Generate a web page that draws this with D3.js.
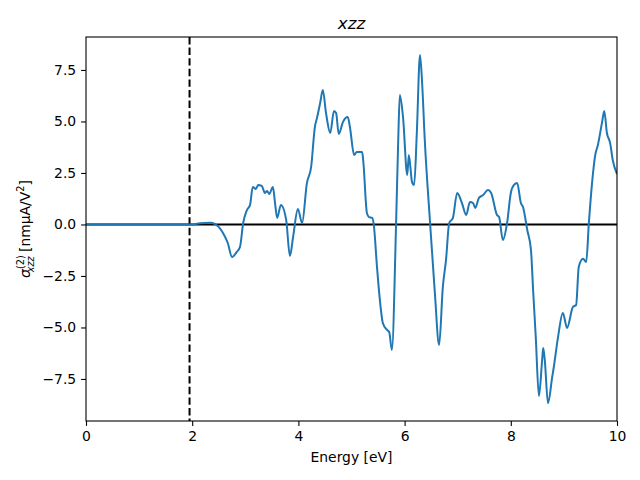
<!DOCTYPE html>
<html><head><meta charset="utf-8">
<script src="https://cdn.jsdelivr.net/npm/d3@7"></script>
<style>body{margin:0;background:#fff}svg{display:block}text{font-family:"DejaVu Sans",sans-serif}</style>
</head><body><svg id="c" width="640" height="480"></svg>
<script>
const energy = [0,2.01,2.15,2.34,2.43,2.58,2.67,2.75,2.84,2.90,2.96,3.03,3.09,3.14,3.20,3.24,3.31,3.37,3.41,3.45,3.52,3.56,3.60,3.67,3.77,3.84,3.90,3.99,4.07,4.16,4.24,4.31,4.35,4.41,4.46,4.52,4.60,4.67,4.71,4.76,4.84,4.93,4.97,5.05,5.10,5.20,5.22,5.29,5.33,5.39,5.42,5.48,5.54,5.59,5.67,5.71,5.76,5.84,5.88,5.91,5.97,6.05,6.08,6.14,6.18,6.23,6.29,6.33,6.38,6.48,6.57,6.65,6.72,6.78,6.84,6.91,6.99,7.08,7.16,7.23,7.29,7.33,7.40,7.48,7.57,7.63,7.74,7.78,7.85,7.93,8.00,8.06,8.12,8.19,8.23,8.31,8.38,8.42,8.47,8.53,8.59,8.61,8.64,8.70,8.78,8.81,8.89,8.98,9.06,9.17,9.23,9.28,9.36,9.42,9.47,9.53,9.59,9.64,9.72,9.76,9.81,9.87,9.92,10.0];
const sigma = [0,0,0.06,0.08,0.02,-0.41,-0.90,-1.58,-1.33,-1.09,0.07,0.70,0.95,1.82,1.72,1.92,1.87,1.53,1.63,1.48,1.82,1.04,0.32,0.95,0.22,-1.53,-0.61,0.75,0.07,2.01,2.79,4.73,5.17,5.90,6.53,5.41,4.44,5.51,5.41,4.39,4.98,5.22,4.73,3.37,3.52,3.52,3.13,0.56,0.36,0.32,-0.02,-2.06,-3.81,-4.78,-5.12,-5.22,-6.09,0.07,4.10,6.29,5.22,2.40,3.37,2.06,1.92,4.44,8.23,6.87,4.10,0.07,-3.33,-5.85,-3.03,-1.72,0.07,0.32,1.53,1.04,0.46,1.09,1.04,0.80,1.29,1.43,1.67,1.53,0.46,0.36,-0.75,0.07,1.53,1.92,2.01,1.04,0.85,-0.27,-1.24,-3.18,-5.46,-8.33,-6.58,-6.00,-6.58,-8.67,-7.40,-6.92,-5.46,-4.30,-5.02,-4.00,-3.91,-2.06,-1.67,-1.82,0.07,2.01,3.37,3.86,4.98,5.51,4.44,3.96,3.13,2.45];
const xTicks = [0,2,4,6,8,10];
const yTicks = [-7.5,-5.0,-2.5,0.0,2.5,5.0,7.5];
const gapEnergy = 1.95;

const L=86,R=617,T=37,B=421;
const svg=d3.select("#c");
const x=d3.scaleLinear().domain([0,10]).range([L,R]);
const y=d3.scaleLinear().domain([-9.54,9.10]).range([B,T]);

svg.append("clipPath").attr("id","clip").append("rect").attr("x",L).attr("y",T).attr("width",R-L).attr("height",B-T);

// zero line
svg.append("line").attr("x1",L).attr("x2",R).attr("y1",y(0)).attr("y2",y(0)).attr("stroke","#000").attr("stroke-width",2);
// gap line
svg.append("line").attr("x1",x(gapEnergy)).attr("x2",x(gapEnergy)).attr("y1",T).attr("y2",B).attr("stroke","#000").attr("stroke-width",2).attr("stroke-dasharray","7.4,3.2");

const data=energy.map((e,i)=>[e,sigma[i]]);
svg.append("path").datum(data).attr("clip-path","url(#clip)")
 .attr("d",d3.line().x(d=>x(d[0])).y(d=>y(d[1])).curve(d3.curveMonotoneX))
 .attr("fill","none").attr("stroke","#1f77b4").attr("stroke-width",2).attr("stroke-linejoin","round");

const xa=svg.append("g").attr("transform",`translate(0,${B})`).call(d3.axisBottom(x).tickValues(xTicks).tickFormat(d3.format("d")).tickSize(4.9).tickPadding(4.9));
const ya=svg.append("g").attr("transform",`translate(${L},0)`).call(d3.axisLeft(y).tickValues(yTicks).tickFormat(d=>d3.format(".1f")(d).replace("-","\u2212")).tickSize(4.9).tickPadding(4.9));
[xa,ya].forEach(a=>{a.select(".domain").remove();a.selectAll("text").attr("font-size","13.9px").attr("font-family","DejaVu Sans").attr("fill","#000");a.selectAll("line").attr("stroke","#000").attr("stroke-width",1.1);});

svg.append("rect").attr("x",L).attr("y",T).attr("width",R-L).attr("height",B-T).attr("fill","none").attr("stroke","#000").attr("stroke-width",1.1);

svg.append("text").attr("x",(L+R)/2).attr("y",29).attr("text-anchor","middle").attr("font-size","16.7px").attr("font-style","italic").text("xzz");
svg.append("text").attr("x",(L+R)/2).attr("y",462).attr("text-anchor","middle").attr("font-size","13.9px").text("Energy [eV]");

const yl=svg.append("text").attr("transform",`translate(30,${(T+B)/2}) rotate(-90)`).attr("text-anchor","middle").attr("font-size","13.9px");
yl.append("tspan").attr("font-style","italic").text("σ");
yl.append("tspan").attr("font-size","9.7px").attr("dy",-6).text("(2)");
yl.append("tspan").attr("font-size","9.7px").attr("font-style","italic").attr("dx",-17).attr("dy",10).text("xzz");
yl.append("tspan").attr("dy",-4).text(" [nmμA/V");
yl.append("tspan").attr("font-size","9.7px").attr("dy",-6).text("2");
yl.append("tspan").attr("dy",6).text("]");
</script></body></html>
